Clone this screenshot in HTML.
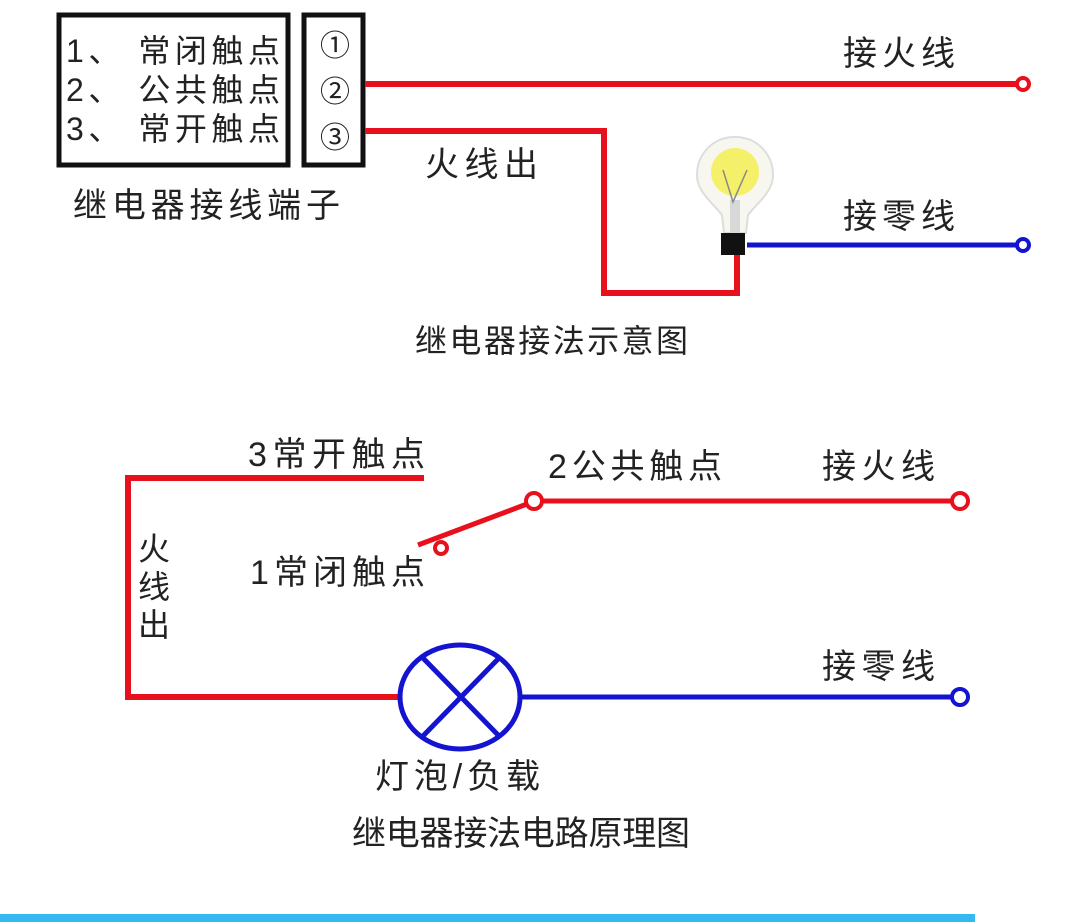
<!DOCTYPE html>
<html><head><meta charset="utf-8"><style>
html,body{margin:0;padding:0;background:#fff;}
svg{display:block;}
text{font-family:"Liberation Sans","Noto Sans CJK SC",sans-serif;fill:#222;}
</style></head><body>
<svg width="1080" height="922" viewBox="0 0 1080 922">
<rect width="1080" height="922" fill="#fff"/>
<rect x="59" y="15" width="229" height="150" fill="none" stroke="#111" stroke-width="5"/>
<rect x="304" y="15" width="59" height="150" fill="none" stroke="#111" stroke-width="5"/>
<text x="66" y="62" font-size="32" textLength="214" lengthAdjust="spacing">1、 常闭触点</text>
<text x="66" y="101" font-size="32" textLength="214" lengthAdjust="spacing">2、 公共触点</text>
<text x="66" y="140" font-size="32" textLength="214" lengthAdjust="spacing">3、 常开触点</text>
<text x="335" y="56" font-size="30" text-anchor="middle">①</text>
<text x="335" y="102" font-size="30" text-anchor="middle">②</text>
<text x="335" y="148" font-size="30" text-anchor="middle">③</text>
<text x="73" y="217" font-size="34" textLength="267" lengthAdjust="spacing">继电器接线端子</text>
<line x1="365" y1="84" x2="1016" y2="84" stroke="#e8101c" stroke-width="6"/>
<circle cx="1023" cy="84" r="6" fill="#fff" stroke="#e8101c" stroke-width="4"/>
<polyline points="365,131 604,131 604,293 737,293 737,255" fill="none" stroke="#e8101c" stroke-width="6"/>
<line x1="747" y1="245" x2="1016" y2="245" stroke="#1414d0" stroke-width="5"/>
<circle cx="1023" cy="245" r="6" fill="#fff" stroke="#1414d0" stroke-width="4"/>
<text x="843" y="65" font-size="34" textLength="112" lengthAdjust="spacing">接火线</text>
<text x="843" y="228" font-size="34" textLength="112" lengthAdjust="spacing">接零线</text>
<text x="425" y="176" font-size="34" textLength="113" lengthAdjust="spacing">火线出</text>
<text x="415" y="352" font-size="32" textLength="273" lengthAdjust="spacing">继电器接法示意图</text>
<path d="M735 137 C712 137 697 155 697 175 C697 192 712 202 722 215 L724 233 L746 233 L748 215 C758 202 773 192 773 175 C773 155 758 137 735 137 Z" fill="#f7f7f0" stroke="#ddd" stroke-width="2"/>
<circle cx="735" cy="172" r="24" fill="#f4f06a"/>
<rect x="730" y="200" width="10" height="33" fill="#d8d8d8"/>
<path d="M723 170 L733 202 L747 170" fill="none" stroke="#888" stroke-width="1.5"/>
<rect x="721" y="233" width="24" height="22" fill="#111"/>
<polyline points="424,478 128,478 128,697 402,697" fill="none" stroke="#e8101c" stroke-width="6"/>
<line x1="542" y1="501" x2="952" y2="501" stroke="#e8101c" stroke-width="5"/>
<circle cx="534" cy="501" r="8" fill="#fff" stroke="#e8101c" stroke-width="4"/>
<circle cx="960" cy="501" r="8" fill="#fff" stroke="#e8101c" stroke-width="4"/>
<line x1="418" y1="545" x2="527" y2="504" stroke="#e8101c" stroke-width="5"/>
<circle cx="441" cy="548" r="6" fill="#fff" stroke="#e8101c" stroke-width="4"/>
<ellipse cx="460" cy="697" rx="60" ry="52" fill="none" stroke="#1414d0" stroke-width="5"/>
<line x1="422" y1="657" x2="500" y2="737" stroke="#1414d0" stroke-width="5"/>
<line x1="500" y1="657" x2="422" y2="737" stroke="#1414d0" stroke-width="5"/>
<line x1="520" y1="697" x2="952" y2="697" stroke="#1414d0" stroke-width="5"/>
<circle cx="960" cy="697" r="8" fill="#fff" stroke="#1414d0" stroke-width="4"/>
<text x="248" y="466" font-size="34" textLength="177" lengthAdjust="spacing">3常开触点</text>
<text x="548" y="478" font-size="34" textLength="174" lengthAdjust="spacing">2公共触点</text>
<text x="822" y="478" font-size="34" textLength="113" lengthAdjust="spacing">接火线</text>
<text x="250" y="584" font-size="34" textLength="175" lengthAdjust="spacing">1常闭触点</text>
<text x="138" y="560" font-size="32">火</text>
<text x="138" y="598" font-size="32">线</text>
<text x="138" y="636" font-size="32">出</text>
<text x="822" y="678" font-size="34" textLength="113" lengthAdjust="spacing">接零线</text>
<text x="375" y="788" font-size="34" textLength="165" lengthAdjust="spacing">灯泡/负载</text>
<text x="352" y="845" font-size="34" textLength="338" lengthAdjust="spacing">继电器接法电路原理图</text>
<rect x="0" y="914" width="975" height="8" fill="#33b8f0"/>
</svg>
</body></html>
